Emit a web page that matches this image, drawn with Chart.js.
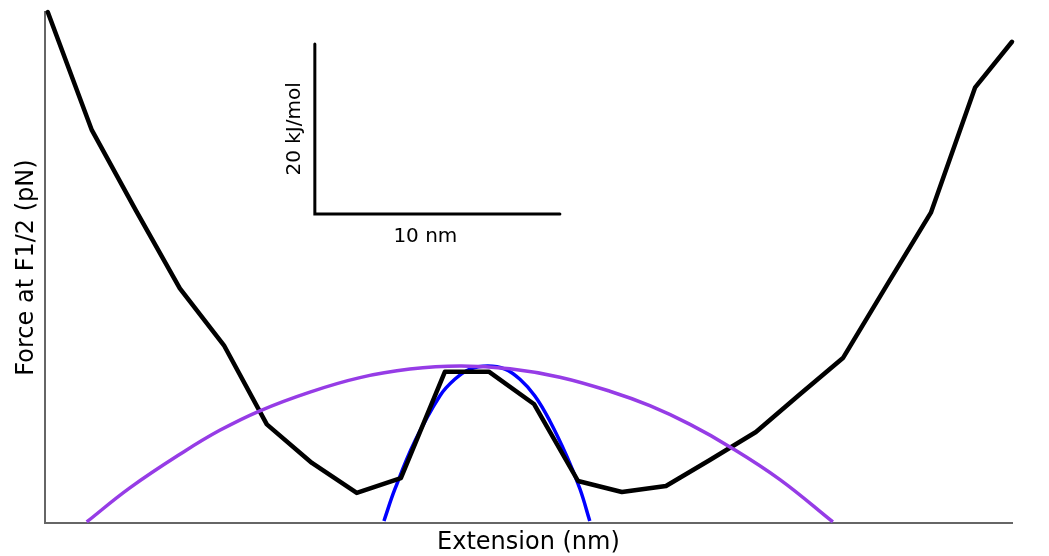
<!DOCTYPE html>
<html>
<head>
<meta charset="utf-8">
<title>Force profile</title>
<script src="https://cdn.jsdelivr.net/npm/chart.js@4/dist/chart.umd.min.js"></script>
<style>
  html, body { margin: 0; padding: 0; background: #fff; }
  #wrap { width: 1049px; height: 556px; }
</style>
</head>
<body>
<div id="wrap"><canvas id="profile"></canvas></div>
<script>
// free energy profile along the extension (nm, kJ/mol)
const profileX = [0.12, 1.92, 3.71, 5.51, 7.31, 9.06, 10.9, 12.73, 14.53, 16.33, 18.12, 19.96,
                  21.76, 23.55, 25.35, 27.14, 29.02, 30.78, 32.57, 34.37, 36.16, 37.96, 39.47];
const profileY = [60.1, 46.2, 36.8, 27.6, 20.9, 11.6, 7.06, 3.53, 5.29, 17.8, 17.8, 14.0,
                  4.94, 3.65, 4.35, 7.41, 10.7, 15.06, 19.4, 28.0, 36.5, 51.2, 56.6];

// wide barrier fit
const wideFitX = [1.71, 3.47, 5.63, 7.14, 8.78, 10.82, 12.86, 14.9, 16.94, 18.98, 21.02,
                  23.06, 24.69, 26.33, 27.96, 30.0, 32.16];
const wideFitY = [0.12, 4.13, 8.3, 10.9, 13.2, 15.4, 17.1, 18.1, 18.47, 18.15, 17.15,
                  15.5, 13.8, 11.6, 8.95, 5.1, 0.12];

// narrow barrier fit
const narrowFitX = [13.84, 14.29, 15.1, 16.12, 16.73, 17.35, 18.08, 18.78, 19.39, 20.0,
                    20.61, 21.31, 21.84, 22.24];
const narrowFitY = [0.24, 4.0, 9.6, 14.94, 16.9, 18.1, 18.47, 18.1, 16.9, 14.94,
                    12.0, 7.8, 4.0, 0.24];

// scale bar: 10 nm by 20 kJ/mol, corner at (barX, barY)
const barX = 11.02;
const barY = 36.35;
const barLenX = 10;
const barLenY = 20;

const pts = (xs, ys) => xs.map((x, i) => ({x: x, y: ys[i]}));

const scaleBarLabels = {
  id: 'scaleBarLabels',
  afterDatasetsDraw(chart) {
    const {ctx, scales: {x, y}} = chart;
    const x0 = x.getPixelForValue(barX);
    const y0 = y.getPixelForValue(barY);
    const yTop = y.getPixelForValue(barY + barLenY);
    const xEnd = x.getPixelForValue(barX + barLenX);
    ctx.save();
    ctx.fillStyle = '#000';
    ctx.font = '20px "DejaVu Sans"';
    ctx.textAlign = 'center';
    ctx.textBaseline = 'middle';
    ctx.fillText('10 nm', (x0 + xEnd) / 2 - 12, y0 + 23);
    ctx.translate(x0 - 20, (y0 + yTop) / 2);
    ctx.rotate(-Math.PI / 2);
    ctx.fillText('20 kJ/mol', 0, 0);
    ctx.restore();
  }
};

new Chart(document.querySelector('#profile'), {
  type: 'line',
  data: {
    datasets: [
      {
        data: pts(wideFitX, wideFitY),
        borderColor: '#963ce6',
        borderWidth: 3.5,
        tension: 0.4,
        pointRadius: 0
      },
      {
        data: pts(profileX, profileY),
        borderColor: '#000',
        borderWidth: 4.5,
        borderJoinStyle: 'round',
        borderCapStyle: 'round',
        tension: 0,
        pointRadius: 0
      },
      {
        data: pts(narrowFitX, narrowFitY),
        borderColor: '#0000ff',
        borderWidth: 3.5,
        tension: 0.4,
        pointRadius: 0
      },
      {
        data: [
          {x: barX, y: barY + barLenY},
          {x: barX, y: barY},
          {x: barX + barLenX, y: barY}
        ],
        borderColor: '#000',
        borderWidth: 3,
        borderCapStyle: 'round',
        tension: 0,
        pointRadius: 0
      }
    ]
  },
  options: {
    responsive: true,
    maintainAspectRatio: false,
    animation: false,
    clip: false,
    layout: {
      padding: {left: 8, right: 37, top: 12, bottom: 1}
    },
    plugins: {
      legend: {display: false},
      tooltip: {enabled: false}
    },
    scales: {
      x: {
        type: 'linear',
        min: 0,
        max: 39.47,
        ticks: {display: false},
        grid: {display: false, drawTicks: false},
        border: {display: true, color: '#666', width: 2},
        title: {
          display: true,
          text: 'Extension (nm)',
          color: '#000',
          font: {family: 'DejaVu Sans', size: 24, lineHeight: 1.0},
          padding: {top: 8, bottom: 0}
        }
      },
      y: {
        type: 'linear',
        min: 0,
        max: 60.1,
        ticks: {display: false},
        grid: {display: false, drawTicks: false},
        border: {display: true, color: '#666', width: 2},
        title: {
          display: true,
          text: 'Force at F1/2 (pN)',
          color: '#000',
          font: {family: 'DejaVu Sans', size: 24, lineHeight: 1.2},
          padding: {top: 4, bottom: 4}
        }
      }
    }
  },
  plugins: [scaleBarLabels]
});
</script>
</body>
</html>
